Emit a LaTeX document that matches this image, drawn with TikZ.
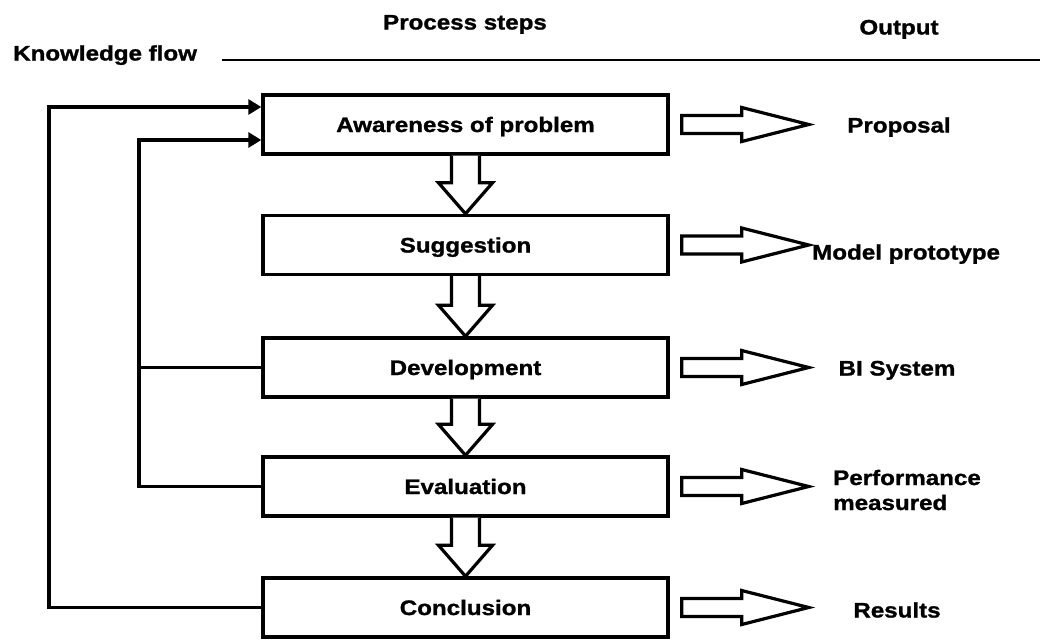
\documentclass[tikz,border=0pt]{standalone}
\usepackage{fontspec}
\newfontfamily\labfont{Liberation Sans}[FakeStretch=1.15, BoldFeatures={FakeBold=1.2}]
\usetikzlibrary{calc,arrows.meta}

% hollow block arrow pointing down from the bottom of #1 to the top of #2
\newcommand\downflow[2]{%
  \draw[blockarrow] let \p1=(#1.south), \p2=(#2.north) in
    (\x1-14pt,\y1) -- (\x1-14pt,\y2+31pt) -- (\x1-27pt,\y2+31pt)
    -- (\x1,\y2) -- (\x1+27pt,\y2+31pt) -- (\x1+14pt,\y2+31pt)
    -- (\x1+14pt,\y1);}
% hollow block arrow pointing right out of the box #1
\newcommand\rightflow[1]{%
  \draw[blockarrow] let \p1=($(#1.east)+(12pt,0)$) in
    (\x1,\y1+9pt) -- (\x1+60pt,\y1+9pt) -- (\x1+60pt,\y1+17pt)
    -- (\x1+127pt,\y1) -- (\x1+60pt,\y1-17pt) -- (\x1+60pt,\y1-9pt)
    -- (\x1,\y1-9pt) -- cycle;}

\tikzset{
  lab/.style={font=\labfont\bfseries\fontsize{21}{25}\selectfont},
  txt/.style={lab, inner sep=0pt, text height=15pt, text depth=0pt},
  stepbox/.style={lab, draw, line width=3.4pt, minimum width=405pt, minimum height=59pt,
    inner sep=0pt, text height=15pt, text depth=0pt},
  blockarrow/.style={draw, fill=white, line width=3.2pt, line join=miter},
  feed/.style={line width=3.2pt},
  tri/.style={-{Triangle[length=13pt,width=15pt]}},
}

\begin{document}
\begin{tikzpicture}[x=1pt,y=-1pt]
  \fill[white] (0,0) rectangle (1040,640);
  \useasboundingbox (0,0) rectangle (1040,640);

  % column headings
  \node[txt] (hproc) at (465,22) {Process steps};
  \node[txt] (hout) at (899,27) {Output};
  \node[txt,anchor=west] (hknow) at (13,53) {Knowledge flow};
  \coordinate (rule0) at (222,60);
  \coordinate (rule1) at (1040,60);
  \draw[line width=2.8pt] (rule0) -- (rule1);

  % process steps
  \node[stepbox] (aw) at (465.5,124.5) {Awareness of problem};
  \node[stepbox] (sg) at (465.5,245)   {Suggestion};
  \node[stepbox] (dv) at (465.5,367.5) {Development};
  \node[stepbox] (ev) at (465.5,486.5) {Evaluation};
  \node[stepbox] (cn) at (465.5,607.5) {Conclusion};

  \downflow{aw}{sg}
  \downflow{sg}{dv}
  \downflow{dv}{ev}
  \downflow{ev}{cn}

  % outputs
  \rightflow{aw}
  \rightflow{sg}
  \rightflow{dv}
  \rightflow{ev}
  \rightflow{cn}
  \node[txt] (o1) at (899,125) {Proposal};
  \node[txt,anchor=west] (o2) at (812,252) {Model prototype};
  \node[txt] (o3) at (897,368) {BI System};
  \node[lab,inner sep=0pt,anchor=west,align=left] (o4) at (833,490) {Performance\\measured};
  \node[txt] (o5) at (897,610) {Results};

  % knowledge flow back to the start
  \coordinate (kout) at (49,107);
  \coordinate (kin) at (139,140);
  \draw[feed,tri] (cn.west) -| (kout) -- (kout -| aw.west);
  \draw[feed,tri] (ev.west) -| (kin) -- (kin -| aw.west);
  \draw[feed] (dv.west) -- (dv.west -| kin);
\end{tikzpicture}
\end{document}
